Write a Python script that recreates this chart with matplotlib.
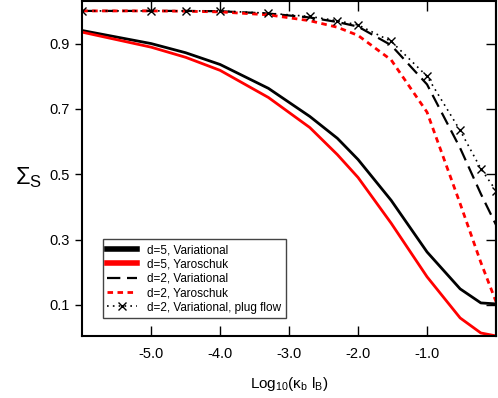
import matplotlib
matplotlib.use("Agg")
import matplotlib.pyplot as plt

# log10(kappa_b * l_B) sample points
x = [-6.0, -5.0, -4.5, -4.0, -3.3, -2.7, -2.3, -2.0, -1.52, -1.0, -0.52, -0.22, 0.0]

d5_var = [0.940, 0.900, 0.872, 0.836, 0.763, 0.677, 0.610, 0.545, 0.420, 0.262, 0.149, 0.106, 0.103]
d5_yar = [0.935, 0.889, 0.858, 0.818, 0.735, 0.643, 0.560, 0.490, 0.350, 0.186, 0.060, 0.014, 0.005]
d2_var = [1.000, 1.000, 1.000, 0.999, 0.992, 0.980, 0.966, 0.952, 0.895, 0.775, 0.580, 0.440, 0.345]
d2_yar = [1.000, 1.000, 0.999, 0.997, 0.988, 0.970, 0.950, 0.925, 0.850, 0.690, 0.410, 0.230, 0.110]
d2_plug = [1.000, 1.000, 1.000, 1.000, 0.993, 0.983, 0.970, 0.957, 0.907, 0.800, 0.634, 0.517, 0.450]

xticks = [-5.0, -4.0, -3.0, -2.0, -1.0]
yticks = [0.1, 0.3, 0.5, 0.7, 0.9]

plt.rcParams["font.family"] = ["Liberation Sans", "DejaVu Sans"]
plt.rcParams["mathtext.fontset"] = "custom"
plt.rcParams["mathtext.rm"] = "Liberation Sans"
plt.rcParams["mathtext.it"] = "Liberation Sans"

fig = plt.figure(figsize=(4.98, 3.98), dpi=100)
ax = fig.add_axes([0.165, 0.156, 0.831, 0.842])

ax.plot(x, d5_var, color="black", lw=2.0, label="d=5, Variational")
ax.plot(x, d5_yar, color="red", lw=2.0, label="d=5, Yaroschuk")
ax.plot(x, d2_var, color="black", lw=1.6, ls=(0, (6, 3)), label="d=2, Variational")
ax.plot(x, d2_yar, color="red", lw=2.0, ls=(0, (2, 1.6)), label="d=2, Yaroschuk")
ax.plot(x, d2_plug, color="black", lw=1.2, ls=(0, (1, 2.5)), marker="x",
        ms=6, mew=1.0, label="d=2, Variational, plug flow")

ax.set_xlim(-6.0, 0.0)
ax.set_ylim(0.005, 1.031)
ax.set_xticks(xticks)
ax.set_xticklabels([f"{v:.1f}" for v in xticks])
ax.set_yticks(yticks)
ax.set_yticklabels([f"{v:.1f}" for v in yticks])

ax.tick_params(axis="x", direction="in", top=True, length=7, width=1, labelsize=10.5, pad=8)
ax.tick_params(axis="y", direction="out", length=5, width=1, labelsize=10.5, pad=4)
ax.tick_params(axis="y", which="both", right=False)
ax2 = ax.secondary_yaxis("right")
ax2.set_yticks(yticks)
ax2.tick_params(direction="in", length=7, width=1, labelright=False)
for sp in ax.spines.values():
    sp.set_linewidth(1.5)
ax2.spines["right"].set_linewidth(1.5)

ax.set_xlabel(r"Log$_{10}$(κ$_{\mathrm{b}}$ l$_{\mathrm{B}}$)", fontsize=11, labelpad=10)
fig.text(0.03, 0.555, r"$\Sigma_{\mathrm{S}}$", fontsize=17, ha="left", va="center")

leg = ax.legend(loc="lower left", bbox_to_anchor=(0.035, 0.035), fontsize=8.5,
                handlelength=2.5, handletextpad=0.9, labelspacing=0.2, borderpad=0.4,
                fancybox=False, framealpha=1, edgecolor="#444444")
leg.get_frame().set_linewidth(1.0)
for h in leg.get_lines()[:2]:
    h.set_linewidth(4)

fig.savefig("out.png", dpi=100)
